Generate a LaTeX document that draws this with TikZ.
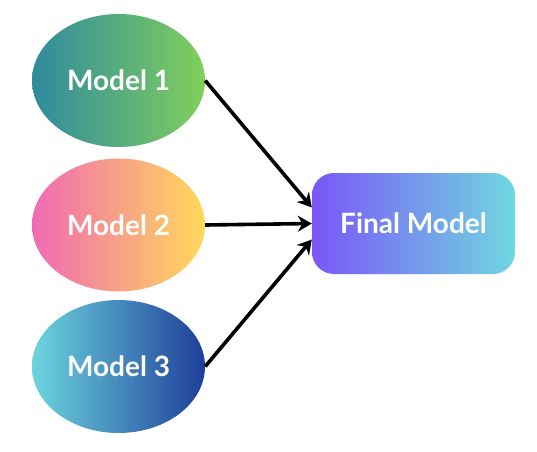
\documentclass[tikz,border=0pt]{standalone}
\usepackage{fontspec}
\setmainfont{Lato}
\usetikzlibrary{calc}
\usetikzlibrary{arrows.meta}
\usetikzlibrary{shapes.geometric}

\definecolor{mOneL}{HTML}{2F8A9E}
\definecolor{mOneR}{HTML}{80CF5B}
\definecolor{mTwoL}{HTML}{F06AB3}
\definecolor{mTwoR}{HTML}{FFD95A}
\definecolor{mThreeL}{HTML}{6CD5DE}
\definecolor{mThreeR}{HTML}{1E3E9A}
\definecolor{finL}{HTML}{7A56F7}
\definecolor{finR}{HTML}{6FD8E0}

\tikzset{
  model/.style={ellipse, minimum width=173pt, minimum height=133pt, inner sep=0, text=white, font=\fontsize{28}{30}\selectfont\bfseries},
  finalbox/.style={rectangle, rounded corners=22pt, minimum width=203pt, minimum height=101pt, inner sep=0, text=white, font=\fontsize{28}{30}\selectfont\bfseries},
  feed/.style={-{Stealth[length=14pt, width=16pt]}, line width=3.6pt, black}
}

\begin{document}
\begin{tikzpicture}[x=1pt, y=-1pt]

\useasboundingbox (0,0) rectangle (537,451);

\node[model, left color=mOneL, right color=mOneR] (m1) at (118.5,80.5) {Model 1};
\node[model, left color=mTwoL, right color=mTwoR] (m2) at (118.5,225) {Model 2};
\node[model, left color=mThreeL, right color=mThreeR] (m3) at (118.5,366.5) {Model 3};

\node[finalbox, left color=finL, right color=finR] (final) at (413.5,223.5) {Final Model};

\coordinate (in1) at ($(final.west)+(0,-16)$);
\coordinate (in2) at (final.west);
\coordinate (in3) at ($(final.west)+(0,16)$);

\draw[feed] (m1.east) -- (in1);
\draw[feed] (m2.east) -- (in2);
\draw[feed] (m3.east) -- (in3);

\end{tikzpicture}
\end{document}
